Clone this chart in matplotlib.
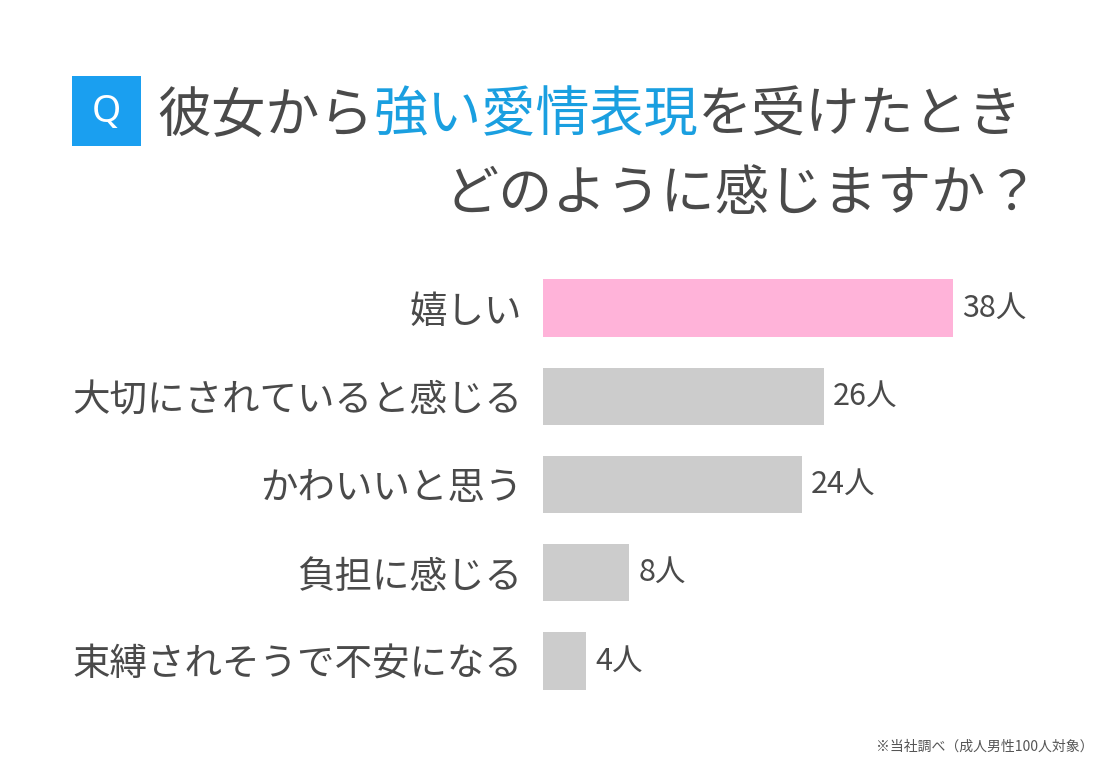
import matplotlib
matplotlib.use("Agg")
from matplotlib import pyplot as plt
from matplotlib.patches import Rectangle

categories = ["嬉しい", "大切にされていると感じる", "かわいいと思う", "負担に感じる", "束縛されそうで不安になる"]
counts = [38, 26, 24, 8, 4]
bar_colors = ["#ffb3d9", "#cccccc", "#cccccc", "#cccccc", "#cccccc"]
value_labels = [f"{c}人" for c in counts]

title_parts = [("彼女から", "#4a4a4a"), ("強い愛情表現", "#1a9fe0"), ("を受けたとき", "#4a4a4a")]
title_line2 = "どのように感じますか？"
note = "※当社調べ（成人男性100人対象）"

text_color = "#4a4a4a"
plt.rcParams["font.family"] = ["Noto Sans CJK JP", "DejaVu Sans"]

W, H = 1100, 770
fig = plt.figure(figsize=(11, 7.7), dpi=100)
fig.patch.set_facecolor("white")

# bars
ax = fig.add_axes([543 / W, 65 / H, 410 / W, 441 / H])
ypos = list(range(len(categories)))
ax.barh(ypos, counts, height=0.65, color=bar_colors)
ax.set_xlim(0, max(counts))
ax.set_ylim(len(categories) - 0.5, -0.5)
ax.set_yticks(ypos)
ax.set_yticklabels(categories, fontsize=27, color=text_color)
ax.tick_params(axis="y", length=0, pad=15)
ax.set_xticks([])
for s in ax.spines.values():
    s.set_visible(False)

for yi, c, lab in zip(ypos, counts, value_labels):
    ax.annotate(lab, (c, yi), xytext=(9, 0), textcoords="offset pixels",
                ha="left", va="center", fontsize=22, color=text_color,
                annotation_clip=False)

# Q box
fig.patches.append(Rectangle((72 / W, 1 - 146 / H), 69 / W, 70 / H,
                             transform=fig.transFigure, facecolor="#1a9ff0",
                             edgecolor="none"))
fig.text(106.5 / W, 1 - 112 / H, "Q", color="white", fontsize=27,
         ha="center", va="center", family=["Noto Sans", "DejaVu Sans"])

# title, line 1 in pieces so the middle part can be blue
renderer = fig.canvas.get_renderer()
x = 157 / W
for part, col in title_parts:
    t = fig.text(x, 1 - 116 / H, part, color=col, fontsize=39, ha="left", va="center")
    bb = t.get_window_extent(renderer)
    x = bb.x1 / W

fig.text(1040 / W, 1 - 194 / H, title_line2, color=text_color, fontsize=39,
         ha="right", va="center")

fig.text(1094 / W, 1 - 747 / H, note, color="#555555", fontsize=10,
         ha="right", va="center")

fig.savefig("out.png", dpi=100, facecolor="white")
